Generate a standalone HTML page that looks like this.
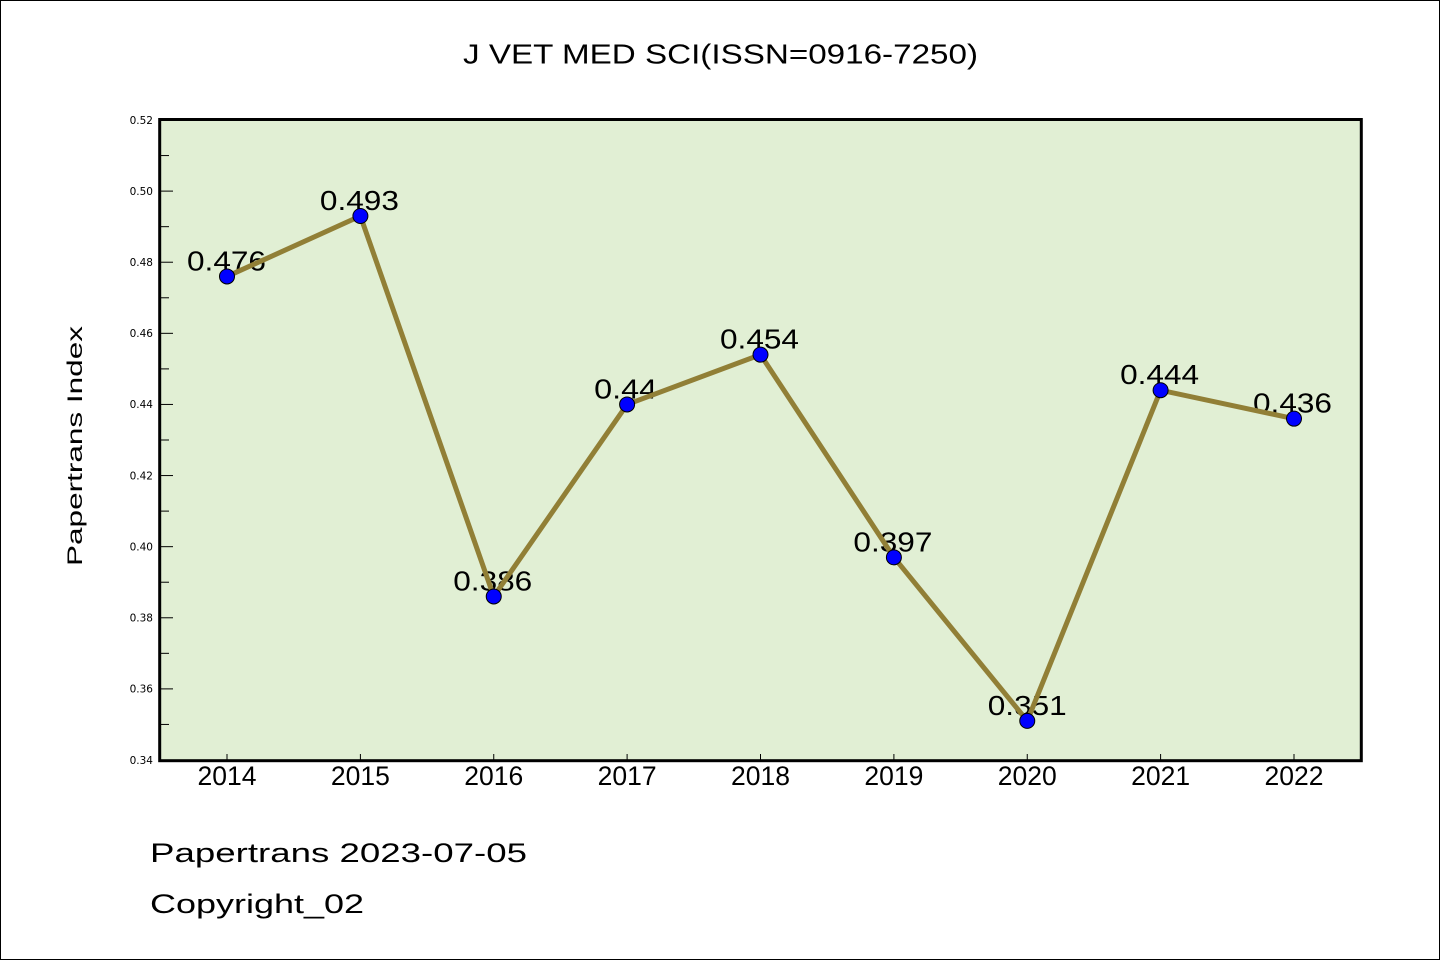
<!DOCTYPE html>
<html><head><meta charset="utf-8"><style>
html,body{margin:0;padding:0;background:#fff;}
svg{display:block;}
</style></head><body>
<svg width="1440" height="960" viewBox="0 0 1440 960" xmlns="http://www.w3.org/2000/svg">
<rect x="0.5" y="0.5" width="1439" height="959" fill="#fff" stroke="#000" stroke-width="1"/>
<text x="463" y="63.5" font-family="Liberation Sans, sans-serif" font-size="28" textLength="515" lengthAdjust="spacingAndGlyphs">J VET MED SCI(ISSN=0916-7250)</text>
<rect x="159.7" y="119.5" width="1201.6" height="641.2" fill="#e1efd4"/>
<g stroke="#000" stroke-width="1">
<line x1="161" y1="760" x2="173" y2="760"/>
<line x1="161" y1="724.44" x2="169" y2="724.44"/>
<line x1="161" y1="688.89" x2="173" y2="688.89"/>
<line x1="161" y1="653.33" x2="169" y2="653.33"/>
<line x1="161" y1="617.78" x2="173" y2="617.78"/>
<line x1="161" y1="582.22" x2="169" y2="582.22"/>
<line x1="161" y1="546.67" x2="173" y2="546.67"/>
<line x1="161" y1="511.11" x2="169" y2="511.11"/>
<line x1="161" y1="475.56" x2="173" y2="475.56"/>
<line x1="161" y1="440" x2="169" y2="440"/>
<line x1="161" y1="404.44" x2="173" y2="404.44"/>
<line x1="161" y1="368.89" x2="169" y2="368.89"/>
<line x1="161" y1="333.33" x2="173" y2="333.33"/>
<line x1="161" y1="297.78" x2="169" y2="297.78"/>
<line x1="161" y1="262.22" x2="173" y2="262.22"/>
<line x1="161" y1="226.67" x2="169" y2="226.67"/>
<line x1="161" y1="191.11" x2="173" y2="191.11"/>
<line x1="161" y1="155.56" x2="169" y2="155.56"/>
<line x1="227" y1="754" x2="227" y2="760"/>
<line x1="360.4" y1="754" x2="360.4" y2="760"/>
<line x1="493.75" y1="754" x2="493.75" y2="760"/>
<line x1="627.1" y1="754" x2="627.1" y2="760"/>
<line x1="760.5" y1="754" x2="760.5" y2="760"/>
<line x1="893.9" y1="754" x2="893.9" y2="760"/>
<line x1="1027.25" y1="754" x2="1027.25" y2="760"/>
<line x1="1160.6" y1="754" x2="1160.6" y2="760"/>
<line x1="1294" y1="754" x2="1294" y2="760"/>
</g>
<g font-family="DejaVu Sans, sans-serif" font-size="10.5" text-anchor="end" fill="#000">
<text x="153" y="763.8">0.34</text>
<text x="153" y="692.7">0.36</text>
<text x="153" y="621.6">0.38</text>
<text x="153" y="550.5">0.40</text>
<text x="153" y="479.4">0.42</text>
<text x="153" y="408.2">0.44</text>
<text x="153" y="337.1">0.46</text>
<text x="153" y="266">0.48</text>
<text x="153" y="194.9">0.50</text>
<text x="153" y="123.8">0.52</text>
</g>
<g font-family="Liberation Sans, sans-serif" font-size="26.5" text-anchor="middle" fill="#000">
<text x="227" y="785">2014</text>
<text x="360.4" y="785">2015</text>
<text x="493.75" y="785">2016</text>
<text x="627.1" y="785">2017</text>
<text x="760.5" y="785">2018</text>
<text x="893.9" y="785">2019</text>
<text x="1027.25" y="785">2020</text>
<text x="1160.6" y="785">2021</text>
<text x="1294" y="785">2022</text>
</g>
<text transform="translate(82,446) rotate(-90)" text-anchor="middle" font-family="Liberation Sans, sans-serif" font-size="21.5" textLength="240" lengthAdjust="spacingAndGlyphs">Papertrans Index</text>
<g font-family="Liberation Sans, sans-serif" font-size="28" text-anchor="middle" fill="#000">
<text x="226.5" y="270.4" textLength="79" lengthAdjust="spacingAndGlyphs">0.476</text>
<text x="359.4" y="210" textLength="79" lengthAdjust="spacingAndGlyphs">0.493</text>
<text x="492.75" y="590.4" textLength="79" lengthAdjust="spacingAndGlyphs">0.386</text>
<text x="625.6" y="398.4" textLength="63" lengthAdjust="spacingAndGlyphs">0.44</text>
<text x="759.5" y="348.7" textLength="79" lengthAdjust="spacingAndGlyphs">0.454</text>
<text x="892.9" y="551.3" textLength="79" lengthAdjust="spacingAndGlyphs">0.397</text>
<text x="1027.25" y="714.9" textLength="79" lengthAdjust="spacingAndGlyphs">0.351</text>
<text x="1159.6" y="384.2" textLength="79" lengthAdjust="spacingAndGlyphs">0.444</text>
<text x="1292.5" y="412.7" textLength="79" lengthAdjust="spacingAndGlyphs">0.436</text>
</g>
<polyline fill="none" stroke="#917f36" stroke-width="5" stroke-linejoin="miter" points="227,276.44 360.4,216 493.75,596.44 627.1,404.44 760.5,354.67 893.9,557.33 1027.25,720.89 1160.6,390.22 1294,418.67"/>
<g fill="#0000ff" stroke="#000" stroke-width="1">
<circle cx="227" cy="276.44" r="7.5"/>
<circle cx="360.4" cy="216" r="7.5"/>
<circle cx="493.75" cy="596.44" r="7.5"/>
<circle cx="627.1" cy="404.44" r="7.5"/>
<circle cx="760.5" cy="354.67" r="7.5"/>
<circle cx="893.9" cy="557.33" r="7.5"/>
<circle cx="1027.25" cy="720.89" r="7.5"/>
<circle cx="1160.6" cy="390.22" r="7.5"/>
<circle cx="1294" cy="418.67" r="7.5"/>
</g>
<rect x="159.7" y="119.5" width="1201.6" height="641.2" fill="none" stroke="#000" stroke-width="3"/>
<text x="150" y="862" font-family="Liberation Sans, sans-serif" font-size="27" textLength="377" lengthAdjust="spacingAndGlyphs">Papertrans 2023-07-05</text>
<text x="150" y="913" font-family="Liberation Sans, sans-serif" font-size="27" textLength="214" lengthAdjust="spacingAndGlyphs">Copyright_02</text>
</svg>
</body></html>
